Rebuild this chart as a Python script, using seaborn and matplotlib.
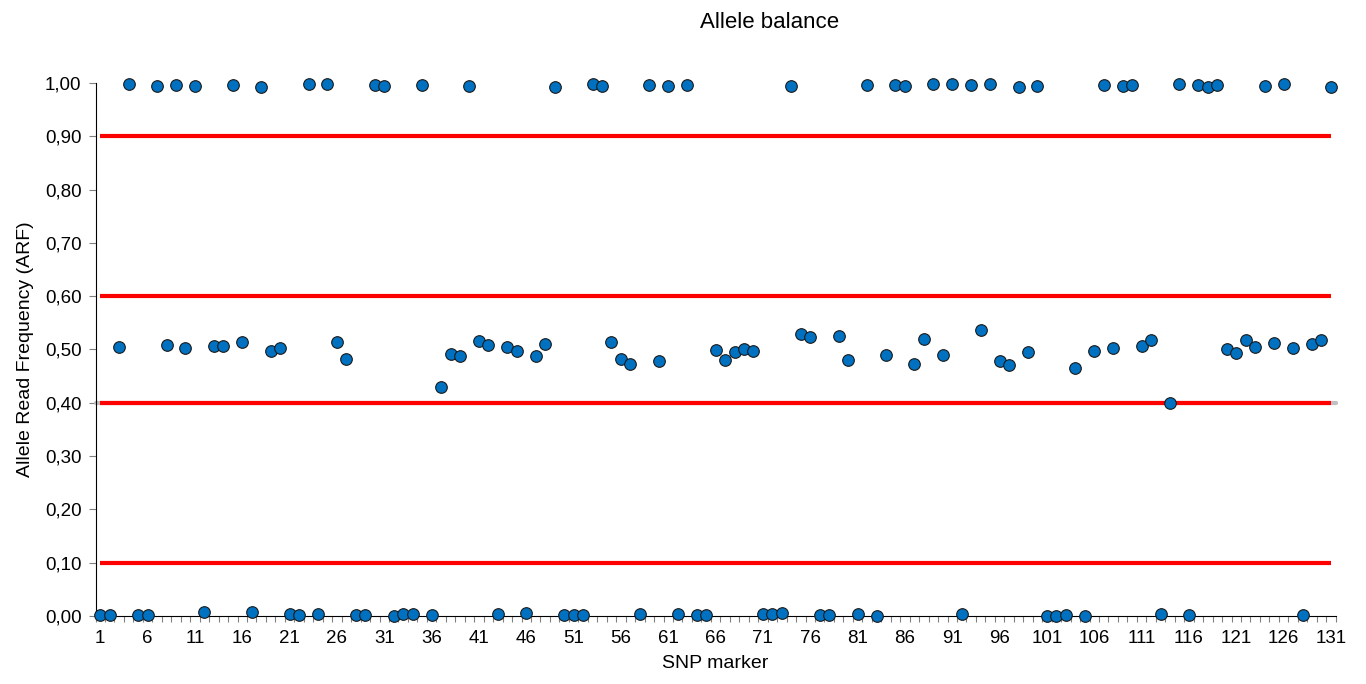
import matplotlib
matplotlib.use("Agg")
import matplotlib.pyplot as plt
import seaborn as sns
import numpy as np
import pandas as pd
from matplotlib.ticker import FixedLocator

# ---- data ----
snp_marker = list(range(1, 132))
arf = [
    0.001, 0.001, 0.504, 0.998, 0.001, 0.002, 0.994, 0.508, 0.996, 0.502,
    0.995, 0.007, 0.507, 0.506, 0.997, 0.515, 0.008, 0.993, 0.498, 0.502,
    0.004, 0.001, 0.998, 0.004, 0.999, 0.515, 0.482, 0.001, 0.001, 0.996,
    0.995, 0.000, 0.003, 0.003, 0.996, 0.001, 0.430, 0.491, 0.488, 0.995,
    0.516, 0.508, 0.004, 0.504, 0.497, 0.006, 0.487, 0.510, 0.992, 0.002,
    0.001, 0.001, 0.998, 0.995, 0.515, 0.482, 0.473, 0.004, 0.996, 0.479,
    0.994, 0.003, 0.997, 0.001, 0.002, 0.499, 0.480, 0.495, 0.500, 0.497,
    0.003, 0.004, 0.005, 0.995, 0.530, 0.524, 0.001, 0.001, 0.525, 0.480,
    0.003, 0.996, 0.000, 0.490, 0.997, 0.994, 0.472, 0.520, 0.998, 0.490,
    0.998, 0.003, 0.996, 0.536, 0.998, 0.479, 0.470, 0.993, 0.495, 0.995,
    0.000, 0.000, 0.002, 0.465, 0.000, 0.497, 0.997, 0.502, 0.995, 0.996,
    0.506, 0.517, 0.004, 0.400, 0.998, 0.001, 0.997, 0.993, 0.996, 0.500,
    0.494, 0.517, 0.505, 0.995, 0.513, 0.998, 0.502, 0.001, 0.510, 0.517,
    0.993,
]
thresholds = [0.10, 0.40, 0.60, 0.90]
x_ticks = list(range(1, 132, 5))
y_ticks = [0.0, 0.1, 0.2, 0.3, 0.4, 0.5, 0.6, 0.7, 0.8, 0.9, 1.0]
y_tick_labels = [f"{v:.2f}".replace(".", ",") for v in y_ticks]

df = pd.DataFrame({"SNP marker": snp_marker, "ARF": arf})

sns.set_style("white")
plt.rcParams["font.family"] = ["Liberation Sans", "DejaVu Sans"]
plt.rcParams["text.color"] = "black"
plt.rcParams["axes.labelcolor"] = "black"
plt.rcParams["xtick.labelcolor"] = "black"
plt.rcParams["ytick.labelcolor"] = "black"

fig = plt.figure(figsize=(13.66, 6.84), dpi=100)
ax = fig.add_axes([95.5 / 1366, 1 - 616 / 684, (1335.7 - 95.5) / 1366, (616 - 83) / 684])

# grey line at 0.4 beneath the red one
ax.axhline(0.40, color="#BFBFBF", lw=3, zorder=1, clip_on=False)
ax.hlines(thresholds, min(snp_marker), max(snp_marker), colors="#FF0000", lw=3, zorder=2)

sns.scatterplot(data=df, x="SNP marker", y="ARF", ax=ax, s=70, color="#0070C0",
                edgecolor="#1a1a1a", linewidth=0.8, zorder=5, clip_on=False, legend=False)

ax.set_xlim(0.5, 131.5)
ax.set_ylim(0, 1)
ax.set_xticks(x_ticks)
ax.set_xticklabels([str(v) for v in x_ticks], fontsize=13.5, color="black")
ax.xaxis.set_minor_locator(FixedLocator(np.arange(0.5, 132, 1.0)))
ax.set_yticks(y_ticks)
ax.set_yticklabels(y_tick_labels, fontsize=13.5, color="black")

ax.tick_params(axis="x", which="major", length=0, pad=10)
ax.tick_params(axis="x", which="minor", length=4, width=0.8, color="#808080", direction="out", bottom=True)
ax.tick_params(axis="y", which="major", length=5, width=0.8, color="#808080", direction="out", left=True, pad=5)

for side in ["top", "right"]:
    ax.spines[side].set_visible(False)
for side in ["left", "bottom"]:
    ax.spines[side].set_color("#000000")
    ax.spines[side].set_linewidth(0.8)

ax.set_xlabel("SNP marker", fontsize=14, labelpad=6, color="black")
ax.set_ylabel("Allele Read Frequency (ARF)", fontsize=14, labelpad=8, color="black")
fig.text(770 / 1366, 1 - 23 / 684, "Allele balance", ha="center", va="center", fontsize=16, color="black")

fig.savefig("out.png", dpi=100)
